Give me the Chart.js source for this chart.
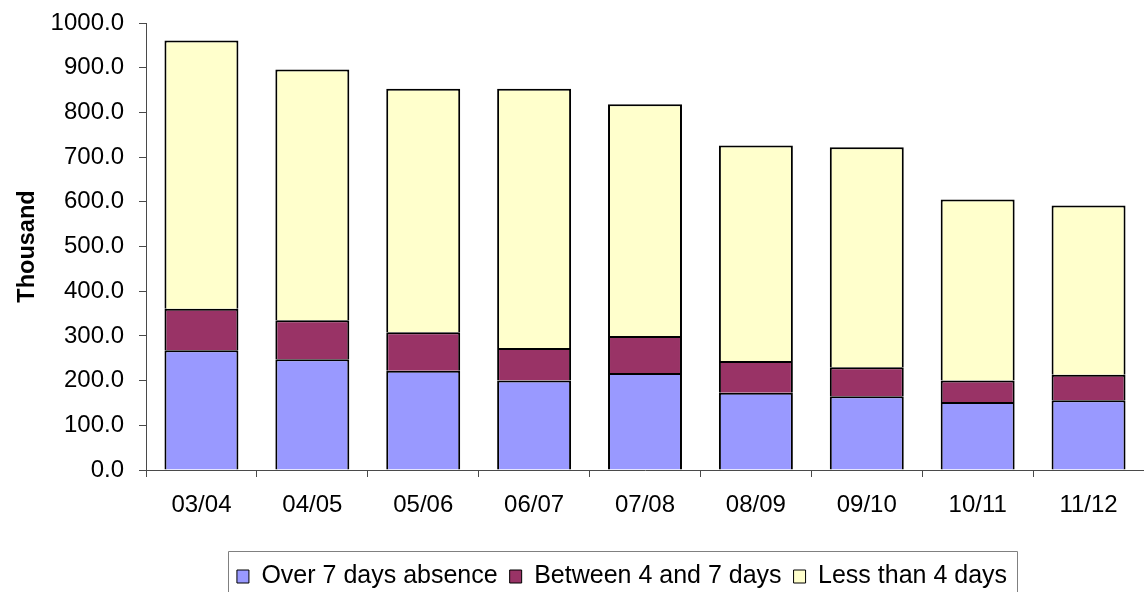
<!DOCTYPE html>
<html>
<head>
<meta charset="utf-8">
<script src="https://cdn.jsdelivr.net/npm/chart.js@4/dist/chart.umd.min.js"></script>
<style>
  html, body { margin: 0; padding: 0; background: #ffffff; }
  #wrap { width: 1144px; height: 592px; }
</style>
</head>
<body>
<div id="wrap"><canvas id="chart" width="1144" height="592"></canvas></div>
<script>
// School years
const categories = ['03/04', '04/05', '05/06', '06/07', '07/08', '08/09', '09/10', '10/11', '11/12'];

// Absence spells, in thousands, stacked per year
const over7Days = [268, 248, 222, 200, 217, 173, 165, 152, 156];
const between4And7 = [93, 87, 86, 73, 83, 71, 65, 48, 57];
const lessThan4 = [600, 561, 545, 580, 518, 482, 492, 405, 379];

const seriesNames = ['Over 7 days absence', 'Between 4 and 7 days', 'Less than 4 days'];
const seriesColors = ['#9999ff', '#993366', '#ffffcc'];

const FONT = '"Liberation Sans", Arial, sans-serif';
const AXIS_COLOR = '#4a4a4a';

// Shifts the legend into place and frames it with a thin grey box
const legendFrame = {
  id: 'legendFrame',
  afterLayout(chart) {
    const lg = chart.legend;
    lg.left += 50; lg.right += 50;
    lg.top += 7; lg.bottom += 7;
  },
  afterDraw(chart) {
    const lg = chart.legend;
    const hb = lg.legendHitBoxes;
    if (!hb || !hb.length) return;
    const last = hb[hb.length - 1];
    const x0 = Math.round(hb[0].left - 9) + 0.5;
    const x1 = Math.round(last.left + last.width + 10) + 0.5;
    const y0 = Math.round(lg.top) - 0.5;
    const ctx = chart.ctx;
    ctx.save();
    ctx.strokeStyle = '#808080';
    ctx.lineWidth = 1;
    ctx.beginPath();
    ctx.moveTo(x0, chart.height + 2);
    ctx.lineTo(x0, y0);
    ctx.lineTo(x1, y0);
    ctx.lineTo(x1, chart.height + 2);
    ctx.stroke();
    ctx.restore();
  }
};

const data = {
  labels: categories,
  datasets: [over7Days, between4And7, lessThan4].map((vals, i) => ({
    label: seriesNames[i],
    data: vals,
    backgroundColor: seriesColors[i],
    borderColor: '#000000',
    borderWidth: 2,
    barPercentage: 0.667,
    categoryPercentage: 1.0
  }))
};

new Chart(document.getElementById('chart'), {
  type: 'bar',
  data,
  plugins: [legendFrame],
  options: {
    responsive: false,
    devicePixelRatio: 1,
    animation: false,
    layout: { padding: { top: 23, left: 0, right: 0, bottom: 0 } },
    plugins: {
      tooltip: { enabled: false },
      legend: {
        position: 'bottom',
        labels: {
          color: '#000000',
          font: { family: FONT, size: 25 },
          boxWidth: 12,
          boxHeight: 13,
          padding: 12,
          generateLabels(chart) {
            return chart.data.datasets.map((ds, i) => ({
              text: ds.label,
              fillStyle: ds.backgroundColor,
              strokeStyle: '#000000',
              lineWidth: 1,
              datasetIndex: i,
              hidden: false
            }));
          }
        }
      }
    },
    scales: {
      x: {
        stacked: true,
        offset: true,
        afterFit(scale) {
          scale.height = 75;
          scale.paddingLeft = 0;
          scale.paddingRight = 0;
        },
        grid: {
          offset: true,
          drawOnChartArea: false,
          drawTicks: true,
          tickLength: 7,
          color: AXIS_COLOR
        },
        border: { display: true, color: AXIS_COLOR, width: 1 },
        ticks: {
          color: '#000000',
          font: { family: FONT, size: 24 },
          padding: 14,
          maxRotation: 0,
          autoSkip: false
        }
      },
      y: {
        stacked: true,
        min: 0,
        max: 1000,
        afterFit(scale) {
          scale.width = 146;
          scale.paddingTop = 0;
          scale.paddingBottom = 0;
        },
        grid: {
          drawOnChartArea: false,
          drawTicks: true,
          tickLength: 7,
          color: AXIS_COLOR
        },
        border: { display: true, color: AXIS_COLOR, width: 1 },
        ticks: {
          stepSize: 100,
          color: '#000000',
          font: { family: FONT, size: 24 },
          padding: 15,
          callback: (v) => Number(v).toFixed(1)
        },
        title: {
          display: true,
          text: 'Thousand',
          color: '#000000',
          font: { family: FONT, size: 23.5, weight: 'bold' },
          padding: { top: 13, bottom: 0 }
        }
      }
    }
  }
});
</script>
</body>
</html>
